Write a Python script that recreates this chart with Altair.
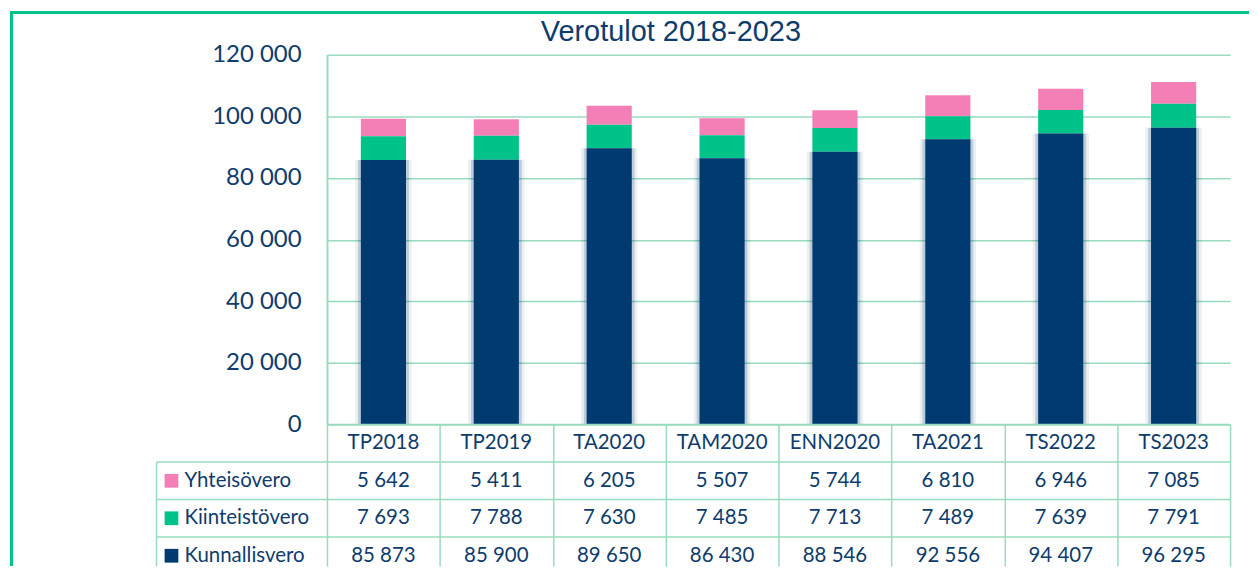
import altair as alt
import pandas as pd

categories = ["TP2018", "TP2019", "TA2020", "TAM2020", "ENN2020", "TA2021", "TS2022", "TS2023"]
series = ["Yhteisövero", "Kiinteistövero", "Kunnallisvero"]
yhteisovero = [5642, 5411, 6205, 5507, 5744, 6810, 6946, 7085]
kiinteistovero = [7693, 7788, 7630, 7485, 7713, 7489, 7639, 7791]
kunnallisvero = [85873, 85900, 89650, 86430, 88546, 92556, 94407, 96295]
y_ticks = [0, 20000, 40000, 60000, 80000, 100000, 120000]
title_text = "Verotulot 2018-2023"

colors = ["#F47FB6", "#00C389", "#003A70"]
TEXT = "#0D3C6D"
GRID = "#97DCBC"
BORDER = "#00C389"

values_by_series = {
    "Yhteisövero": yhteisovero,
    "Kiinteistövero": kiinteistovero,
    "Kunnallisvero": kunnallisvero,
}
stack_order = {"Kunnallisvero": 0, "Kiinteistövero": 1, "Yhteisövero": 2}

rows = []
for s in series:
    for c, v in zip(categories, values_by_series[s]):
        rows.append({"category": c, "series": s, "value": v, "order": stack_order[s]})
df = pd.DataFrame(rows)

W, H = 906, 371
ROW = 37.6
TH = 142
T_MAX = TH / ROW

# table: row 0 = header, rows 1..3 = series
trows = [{"category": c, "row": "hdr", "idx": 0, "value": 0} for c in categories]
for i, s in enumerate(series, start=1):
    for c, v in zip(categories, values_by_series[s]):
        trows.append({"category": c, "row": s, "idx": i, "value": v})
tdf = pd.DataFrame(trows)
tdf["pos"] = tdf["idx"] + 0.5

label_df = pd.DataFrame({"row": series, "idx": [1, 2, 3]})
label_df["pos"] = label_df["idx"] + 0.5
label_df["end"] = T_MAX

color_scale = alt.Scale(domain=series, range=colors)
x_band = alt.Scale(domain=categories, paddingInner=0, paddingOuter=0)
fmt = "replace(format(datum.value, ','), ',', ' ')"
t_scale = alt.Scale(domain=[0, T_MAX], reverse=True, nice=False, zero=False)

# ---------- top: stacked bars ----------
bars = alt.Chart(df).mark_bar(width=alt.RelativeBandSize(0.4)).encode(
    x=alt.X("category:N", sort=categories, scale=x_band, axis=None),
    y=alt.Y(
        "value:Q",
        stack="zero",
        scale=alt.Scale(domain=[0, 120000], nice=False),
        axis=alt.Axis(
            values=y_ticks, title=None, labelExpr=fmt, labelFont="Lato",
            labelFontSize=24, labelColor=TEXT, labelPadding=26, ticks=False,
            domain=True, domainColor=GRID, domainWidth=2, grid=True,
            gridColor=GRID, gridWidth=1.5,
        ),
    ),
    color=alt.Color("series:N", scale=color_scale, legend=None),
    order=alt.Order("order:Q", sort="ascending"),
)

shadow_data = df[df["series"] == "Kunnallisvero"]
shadow1 = alt.Chart(shadow_data).mark_bar(
    width=alt.RelativeBandSize(0.5), color="#003A70", opacity=0.08
).encode(
    x=alt.X("category:N", sort=categories, scale=x_band, axis=None),
    y=alt.Y("value:Q", stack=None),
)
shadow2 = alt.Chart(shadow_data).mark_bar(
    width=alt.RelativeBandSize(0.45), color="#003A70", opacity=0.2
).encode(
    x=alt.X("category:N", sort=categories, scale=x_band, axis=None),
    y=alt.Y("value:Q", stack=None),
)

one = pd.DataFrame({"k": [0]})
frame_top = alt.Chart(one).mark_rule(stroke=BORDER, strokeWidth=3).encode(
    x=alt.value(-318), x2=alt.value(W + 19), y=alt.value(-42.5)
)
frame_left = alt.Chart(one).mark_rule(stroke=BORDER, strokeWidth=3).encode(
    x=alt.value(-316.5), y=alt.value(-44), y2=alt.value(H + TH)
)

title = alt.Chart(pd.DataFrame({"t": [title_text]})).mark_text(
    font="Liberation Sans", fontSize=29, color=TEXT, align="center", baseline="alphabetic"
).encode(x=alt.value(345), y=alt.value(-14), text="t:N")

top = alt.layer(frame_top, frame_left, shadow1, shadow2, bars, title).properties(
    width=W, height=H, view=alt.ViewConfig(stroke=None)
)

# ---------- bottom: data table ----------
cells = alt.Chart(tdf).transform_calculate(
    label="datum.row == 'hdr' ? datum.category : " + fmt
).mark_text(font="Lato", fontSize=20.5, color=TEXT).encode(
    x=alt.X(
        "category:N", sort=categories, scale=x_band,
        axis=alt.Axis(title=None, labels=False, ticks=False, domain=False, grid=True,
                      tickBand="extent", gridColor=GRID, gridWidth=1.5),
    ),
    y=alt.Y("pos:Q", scale=t_scale, axis=None),
    text="label:N",
)

row_labels = alt.Chart(label_df).mark_text(
    font="Lato", fontSize=20.5, color=TEXT, align="left"
).encode(x=alt.value(-143), y=alt.Y("pos:Q", scale=t_scale, axis=None), text="row:N")

swatches = alt.Chart(label_df).mark_square(size=190, opacity=1).encode(
    y=alt.Y("pos:Q", scale=t_scale, axis=None),
    x=alt.value(-156),
    color=alt.Color("row:N", scale=color_scale, legend=None),
)

hdr_line = alt.Chart(pd.DataFrame({"idx": [0]})).mark_rule(stroke=GRID, strokeWidth=1.5).encode(
    y=alt.Y("idx:Q", scale=t_scale, axis=None), x=alt.value(0), x2=alt.value(W)
)
row_lines = alt.Chart(label_df).mark_rule(stroke=GRID, strokeWidth=1.5).encode(
    y=alt.Y("idx:Q", scale=t_scale, axis=None), x=alt.value(-171), x2=alt.value(W)
)
left_line = alt.Chart(label_df.iloc[[0]]).mark_rule(stroke=GRID, strokeWidth=1.5).encode(
    x=alt.value(-171), y=alt.Y("idx:Q", scale=t_scale, axis=None), y2="end:Q"
)

table = alt.layer(hdr_line, row_lines, left_line, cells, row_labels, swatches).properties(
    width=W, height=TH, view=alt.ViewConfig(stroke=None)
)

chart = alt.vconcat(top, table, spacing=0, bounds="flush").resolve_scale(
    x="independent", y="independent", color="shared"
).properties(padding=0, background="white")

chart.save("out.html", embed_options={"renderer": "svg", "actions": False})
